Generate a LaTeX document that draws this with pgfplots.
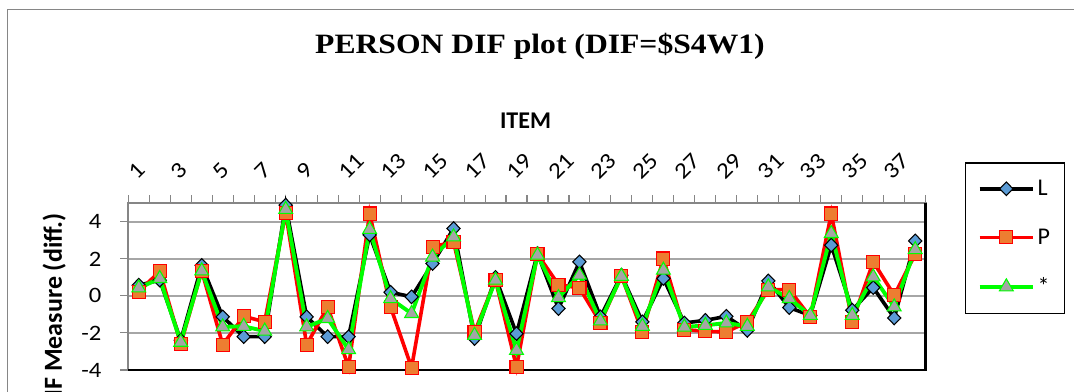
\documentclass[border=0pt]{standalone}
\usepackage{pgfplots}
\pgfplotsset{compat=1.18}
\usepackage{pgfplotstable}
\usepackage{fontspec}
\setmainfont{Carlito}
\newfontfamily\titlefont[FakeStretch=1.13]{Liberation Serif}
\newfontfamily\tickfont[FakeStretch=1.12]{Carlito}
\definecolor{lblue}{HTML}{5B9BD5}
\definecolor{lorange}{HTML}{ED7D31}
\definecolor{lgray}{HTML}{A5A5A5}
\definecolor{lgreen}{HTML}{00FF00}
\definecolor{gridc}{HTML}{A6A6A6}
\definecolor{axc}{HTML}{868686}

\pgfplotstableread{
item L P S
1 0.58 0.22 0.43
2 0.85 1.34 0.94
3 -2.40 -2.60 -2.50
4 1.65 1.35 1.35
5 -1.13 -2.63 -1.67
6 -2.20 -1.10 -1.64
7 -2.20 -1.40 -1.90
8 4.90 4.49 4.67
9 -1.13 -2.63 -1.67
10 -2.20 -0.60 -1.22
11 -2.20 -3.84 -2.90
12 3.30 4.45 3.59
13 0.20 -0.60 -0.15
14 -0.05 -3.87 -0.95
15 1.75 2.65 2.10
16 3.64 2.92 3.19
17 -2.30 -1.95 -2.13
18 1.00 0.85 0.85
19 -2.04 -3.84 -2.94
20 2.29 2.25 2.20
21 -0.68 0.61 -0.09
22 1.84 0.43 1.12
23 -1.13 -1.44 -1.35
24 1.12 1.08 1.06
25 -1.40 -1.95 -1.64
26 0.94 2.02 1.39
27 -1.46 -1.82 -1.68
28 -1.32 -1.91 -1.59
29 -1.10 -1.95 -1.46
30 -1.86 -1.40 -1.64
31 0.81 0.34 0.49
32 -0.63 0.34 -0.14
33 -1.05 -1.14 -1.05
34 2.74 4.45 3.37
35 -0.77 -1.40 -1.05
36 0.45 1.84 1.03
37 -1.19 0.04 -0.59
38 2.97 2.25 2.50
}\difdata

\begin{document}
\begin{tikzpicture}
\begin{axis}[
  at={(0,0)}, anchor=south west,
  scale only axis, width=598.05pt, height=125pt,
  xmin=0.5, xmax=38.5, ymin=-4, ymax=5,
  ytick={-4,-2,0,2,4}, yticklabels={-4,-2,0,2,4},
  ymajorgrids, grid style={gridc, line width=1.1pt},
  axis line style={axc, line width=1.5pt},
  tick align=outside,
  major tick length=6pt,
  tick style={axc, line width=0.8pt},
  xtick={0.5,1.5,...,38.5}, xticklabels={},
  xtick pos=right, xticklabel pos=right,
  ytick pos=left,
  extra x ticks={1,3,...,37},
  extra x tick labels={1,3,5,7,9,11,13,15,17,19,21,23,25,27,29,31,33,35,37},
  extra x tick style={major tick length=0pt, tick style={draw=none}},
  xticklabel shift=21pt,
  xticklabel style={font=\tickfont\fontsize{17}{20}\selectfont, inner sep=0pt, xshift=-5pt, rotate=45, anchor=west},
  yticklabel shift=14pt,
  yticklabel style={font=\tickfont\fontsize{16.5}{19}\selectfont, inner sep=0pt, anchor=east},
  clip=false,
  legend style={at={(axis description cs:1.0493,1.2478)}, anchor=north west, draw=black, line width=1.1pt,
    font=\fontsize{18}{21}\selectfont, row sep=19.4pt, inner xsep=9pt, inner ysep=11pt, cells={anchor=west}},
  legend image code/.code={\draw[mark repeat=2,mark phase=2] plot coordinates {(0pt,0pt)(20pt,0pt)(40pt,0pt)};},
]
\draw[black, line width=1.9pt] (rel axis cs:0,0) -- (rel axis cs:1,0) -- (rel axis cs:1,1);
\addplot[black, line width=2.7pt, mark=diamond*, mark size=5.1pt,
  mark options={xscale=1.3, fill=lblue, draw=black, line width=0.8pt, solid}]
  table[x=item,y=L]{\difdata};
\addlegendentry{L}
\addplot[red, line width=2.7pt, mark=square*, mark size=4.9pt,
  mark options={fill=lorange, draw=red, line width=0.8pt, solid}]
  table[x=item,y=P]{\difdata};
\addlegendentry{P}
\addplot[lgreen, line width=2.9pt, mark=triangle*, mark size=6pt,
  mark options={fill=lgray, draw=lgreen, line width=0.8pt, solid}]
  table[x=item,y=S]{\difdata};
\addlegendentry{*}
\end{axis}
\begin{scope}[x=0.75pt,y=-0.75pt,shift={(-128.3,-370)}]
\node[font=\titlefont\bfseries\fontsize{21}{25}\selectfont, anchor=base, inner sep=0pt] at (540,53.3) {PERSON DIF plot (DIF=\$S4W1)};
\node[font=\bfseries\fontsize{18}{22}\selectfont, anchor=base, inner sep=0pt] at (525.5,128.3) {ITEM};
\node[font=\bfseries\fontsize{19.5}{23}\selectfont, rotate=90, anchor=base east, inner sep=0pt] at (62,213) {DIF Measure (diff.)};
\draw[axc, line width=1.1pt] (7.5,420) -- (7.5,9.3) -- (1090,9.3);
\pgfresetboundingbox
\path[use as bounding box] (0,0) rectangle (1074,392);
\end{scope}
\end{tikzpicture}
\end{document}
